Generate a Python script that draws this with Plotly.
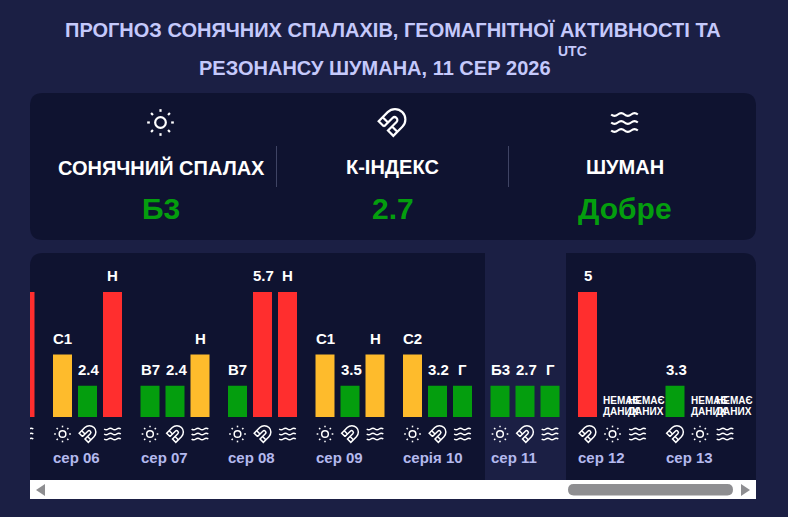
import re
import plotly.graph_objects as go

W, H = 788, 517
BG = "#1b1f44"
PANEL = "#0f1330"
GREEN = "#049e0e"
YELLOW = "#febb2c"
RED = "#ff2e2e"
TITLE_COL = "#c5c9fb"
DATE_COL = "#b4b9ee"
GREY = "#8e8e91"
FONT = "Liberation Sans"

# forecast data, sep 05 is scrolled almost out of view
days = ["сер 05", "сер 06", "сер 07", "сер 08", "сер 09", "серія 10", "сер 11", "сер 12", "сер 13"]
flare_labels = [None, "С1", "В7", "В7", "С1", "С2", "Б3", None, None]
flare_levels = [None, 2, 1, 1, 2, 2, 1, None, None]
k_labels = [None, "2.4", "2.4", "5.7", "3.5", "3.2", "2.7", "5", "3.3"]
k_levels = [None, 1, 1, 4, 1, 1, 1, 4, 1]
schumann_labels = ["Н", "Н", "Н", "Н", "Н", "Г", "Г", None, None]
schumann_levels = [4, 4, 2, 4, 2, 1, 1, None, None]
today = 6
no_data_lines = ["НЕМАЄ", "ДАНИХ"]

header_titles = ["СОНЯЧНИЙ СПАЛАХ", "К-ІНДЕКС", "ШУМАН"]
header_values = ["Б3", "2.7", "Добре"]
level_colors = {1: GREEN, 2: YELLOW, 4: RED}

# lucide style icons on a 24 unit box
SUN = ["M16 12C16 14.21 14.21 16 12 16C9.79 16 8 14.21 8 12C8 9.79 9.79 8 12 8C14.21 8 16 9.79 16 12Z",
       "M12 2L12 4", "M12 20L12 22", "M4.93 4.93L6.34 6.34", "M17.66 17.66L19.07 19.07",
       "M2 12L4 12", "M20 12L22 12", "M6.34 17.66L4.93 19.07", "M19.07 4.93L17.66 6.34"]
MAGNET = ["M6 15L2 11L8.75 4.23C11.79 1.19 16.71 1.19 19.75 4.23C22.79 7.27 22.79 12.19 19.75 15.23"
          "L13 22L9 18L15.39 11.64C16.22 10.81 16.22 9.47 15.39 8.64C14.56 7.81 13.22 7.81 12.39 8.64L6 15",
          "M5 8L9 12", "M12 15L16 19"]
WAVES = ["M2 %gC2.6 %g 3.2 %g 4.5 %gC7 %g 7 %g 9.5 %gC12.1 %g 11.9 %g 14.5 %gC17 %g 17 %g 19.5 %gC20.8 %g 21.4 %g 22 %g"
         % tuple(b + d for d in [0, .5, 1, 1, 1, -1, -1, -1, 1, 1, 1, -1, -1, -1, -.5, 0]) for b in [6, 12, 18]]

# bars live on x2/y2: one x unit is 25px, one y unit 31.25px
X0_PX, Y0_PX, UX, UY = 62.5, 417, 25, 31.25
DAY_STEP = 3.5
BAR_W = 0.76


def icon_shapes(strokes, cx, cy, size, lw, xref="x", yref="y", sx=1, sy=1):
    out = []
    for s in strokes:
        def conv(m):
            a, b = float(m.group(1)), float(m.group(2))
            return "%.3f,%.3f" % (cx + (a - 12) * size / 24 * sx, cy + (b - 12) * size / 24 * sy)
        d = re.sub(r"(-?[\d.]+) (-?[\d.]+)", conv, s)
        out.append(dict(type="path", path=d, xref=xref, yref=yref, layer="above",
                        line=dict(color="white", width=lw)))
    return out


def rounded(x0, y0, x1, y1, r, bottom=True):
    p = f"M{x0},{y0 + r}Q{x0},{y0} {x0 + r},{y0}L{x1 - r},{y0}Q{x1},{y0} {x1},{y0 + r}"
    if bottom:
        p += f"L{x1},{y1 - r}Q{x1},{y1} {x1 - r},{y1}L{x0 + r},{y1}Q{x0},{y1} {x0},{y1 - r}Z"
    else:
        p += f"L{x1},{y1}L{x0},{y1}Z"
    return p


def box(path, color):
    return dict(type="path", path=path, xref="x", yref="y", layer="below",
                fillcolor=color, line=dict(width=0))


def slot_x(day, slot):
    return (day - 1) * DAY_STEP + slot


fig = go.Figure()
# keeps the pixel axes alive
fig.add_trace(go.Scatter(x=[0], y=[0], mode="markers", marker=dict(opacity=0), hoverinfo="skip", showlegend=False))

series = [("Сонячний спалах", flare_levels, flare_labels, SUN),
          ("К-індекс", k_levels, k_labels, MAGNET),
          ("Шуман", schumann_levels, schumann_labels, WAVES)]

shapes = [box(rounded(30, 93, 756, 240, 13), PANEL),
          box(rounded(30, 253, 756, 480, 13, bottom=False), PANEL),
          dict(type="rect", xref="x2", yref="y2", layer="below", fillcolor=BG, line=dict(width=0),
               x0=slot_x(today, 0) - 0.6, x1=slot_x(today, 2) + 0.64, y0=-2.02, y1=5.25)]
annotations = []


def note(x, y, text, size, color="white", xanchor="center", yanchor="middle", xref="x", yref="y", yshift=0):
    annotations.append(dict(x=x, y=y, text=f"<b>{text}</b>", xref=xref, yref=yref, showarrow=False,
                            xanchor=xanchor, yanchor=yanchor, yshift=yshift, borderpad=0, borderwidth=0,
                            font=dict(family=FONT, size=size, color=color)))


for name, levels, labels, icon in series:
    xs, ys, cols = [], [], []
    for d in range(len(days)):
        # the days without a flare forecast keep the k-index in front
        order = [1, 0, 2] if flare_levels[d] is None and schumann_levels[d] is None else [0, 1, 2]
        slot = order[[s[0] for s in series].index(name)]
        x = slot_x(d, slot)
        if levels[d] is not None:
            xs.append(x)
            ys.append(levels[d])
            cols.append(level_colors[levels[d]])
            if d > 0:
                # labels wider than the bar start at its left edge and overflow right
                if len(labels[d]) > 2:
                    note(x - BAR_W / 2, levels[d], labels[d], 15, xanchor="left", yanchor="bottom",
                         xref="x2", yref="y2", yshift=8)
                else:
                    note(x, levels[d], labels[d], 15, yanchor="bottom", xref="x2", yref="y2", yshift=8)
        elif d > 0:
            for i, line in enumerate(no_data_lines):
                note(x - BAR_W / 2, 0.544 - 0.37 * i, line, 10, xanchor="left", xref="x2", yref="y2")
        if levels[d] is not None or d > 0:
            shapes += icon_shapes(icon, x, -17 / UY, 20, 1.5, "x2", "y2", 1 / UX, -1 / UY)
    fig.add_trace(go.Bar(x=xs, y=ys, name=name, width=BAR_W, marker=dict(color=cols, line=dict(width=0)),
                         xaxis="x2", yaxis="y2", showlegend=False, hoverinfo="skip"))

for d, day in enumerate(days):
    if d > 0:
        note(slot_x(d, 0) - BAR_W / 2, -40 / UY, day, 15, DATE_COL, xanchor="left", xref="x2", yref="y2")

# title
note(393, 30, "ПРОГНОЗ СОНЯЧНИХ СПАЛАХІВ, ГЕОМАГНІТНОЇ АКТИВНОСТІ ТА", 20, TITLE_COL)
note(375, 68, "РЕЗОНАНСУ ШУМАНА, 11 СЕР 2026", 20, TITLE_COL)
note(572, 51, "UTC", 14, TITLE_COL)

# header card
header_x = [161, 392.5, 625]
for x, t, v, s in zip(header_x, header_titles, header_values, series):
    note(x, 167, t, 20)
    note(x, 208, v, 30, GREEN)
    shapes += icon_shapes(s[3], x - 0.5, 122.5, 32, 2.2)
for x in [276.5, 508.5]:
    shapes.append(dict(type="line", xref="x", yref="y", layer="above", x0=x, x1=x, y0=146, y1=187,
                       line=dict(color="#3f4464", width=1)))

# scrollbar
shapes.append(box("M30,480L756,480L756,499L30,499Z", "white"))
for p in ["M45,484L45,496L36,490Z", "M741,484L741,496L750,490Z", rounded(568, 484, 733, 495.5, 5.7)]:
    s = box(p, GREY)
    s["layer"] = "above"
    shapes.append(s)

fig.update_layout(
    width=W, height=H, margin=dict(l=0, r=0, t=0, b=0),
    paper_bgcolor=BG, plot_bgcolor="rgba(0,0,0,0)", showlegend=False, barmode="overlay",
    xaxis=dict(domain=[0, 1], range=[0, W], visible=False, fixedrange=True),
    yaxis=dict(domain=[0, 1], range=[H, 0], visible=False, fixedrange=True),
    xaxis2=dict(domain=[30 / W, 756 / W], range=[(30 - X0_PX) / UX, (756 - X0_PX) / UX],
                visible=False, anchor="y2", fixedrange=True),
    yaxis2=dict(domain=[(H - 480) / H, (H - 253) / H], range=[(Y0_PX - 480) / UY, (Y0_PX - 253) / UY],
                visible=False, anchor="x2", fixedrange=True),
    shapes=shapes, annotations=annotations,
)

fig.write_html("out.html", config=dict(displayModeBar=False),
               post_script="document.body.style.margin='0';document.body.style.background='%s';" % BG)
